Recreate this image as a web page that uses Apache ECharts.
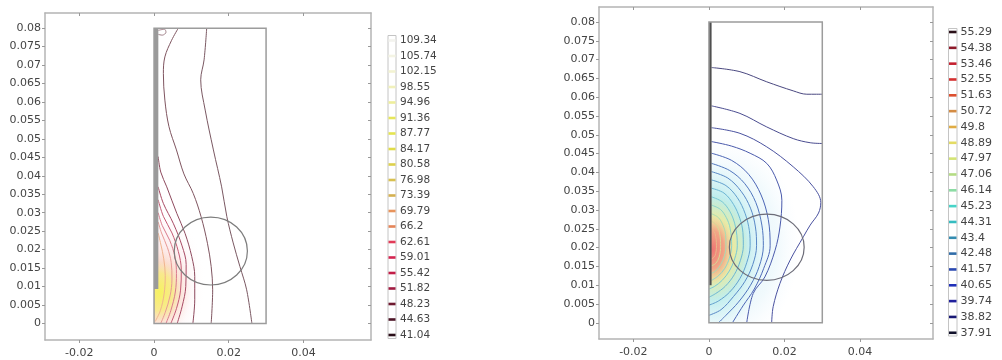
<!DOCTYPE html>
<html><head><meta charset="utf-8">
<script src="https://cdn.jsdelivr.net/npm/echarts@6/dist/echarts.min.js"></script>
<style>html,body{margin:0;padding:0;background:#fff}#c{width:1002px;height:360px}</style>
</head><body><div id="c"></div>
<script>
// ---------- tick labels ----------
const xTicks = [-0.02, 0, 0.02, 0.04];
const yTicks = [0, 0.005, 0.01, 0.015, 0.02, 0.025, 0.03, 0.035, 0.04, 0.045, 0.05, 0.055, 0.06, 0.065, 0.07, 0.075, 0.08];

// ---------- legend levels ----------
const leftLevels = ['109.34','105.74','102.15','98.55','94.96','91.36','87.77','84.17','80.58','76.98','73.39','69.79','66.2','62.61','59.01','55.42','51.82','48.23','44.63','41.04'];
const rightLevels = ['55.29','54.38','53.46','52.55','51.63','50.72','49.8','48.89','47.97','47.06','46.14','45.23','44.31','43.4','42.48','41.57','40.65','39.74','38.82','37.91'];

// ---------- geometry (data units) ----------
const domainRect = [0, 0, 0.03, 0.08];          // x0, y0, x1, y1
const leftWall = [0, 0.0093, 0.00115, 0.08];
const rightWall = [0, 0.01, 0.0007, 0.08];
const leftCircle = [0.0152, 0.0196, 0.0098, 0.0092];   // cx, cy, rx, ry
const rightCircle = [0.0153, 0.0201, 0.0099, 0.0088];

// ---------- temperature field (approximate glows: cx, cy, rx, ry) ----------
const leftGlow = [[0.0, 0.011, 0.014, 0.021], [0.001, 0.009, 0.009, 0.013], [0.0015, 0.0085, 0.0058, 0.0085]];
const rightGlow = [[0.004, 0.021, 0.02, 0.028], [0.001, 0.02, 0.014, 0.023], [0.001, 0.0198, 0.0095, 0.014], [0.001, 0.0195, 0.0055, 0.0092]];

// ---------- left contours ----------
const leftA = [[0.0141,0.080],[0.0134,0.0714],[0.0125,0.066],[0.0137,0.0578],[0.0159,0.047],[0.0181,0.037],[0.0195,0.0289],[0.0212,0.0218],[0.023,0.0154],[0.0248,0.0091],[0.0262,0]];
const leftB = [[0.0065,0.080],[0.0047,0.0767],[0.0029,0.0722],[0.0025,0.0677],[0.0029,0.0605],[0.0040,0.0533],[0.0060,0.047],[0.0080,0.0405],[0.0105,0.0352],[0.0126,0.0289],[0.0143,0.0217],[0.0153,0.0154],[0.0157,0.0091],[0.0153,0]];
const leftC = [[0.0011,0.0452],[0.0018,0.041],[0.0034,0.037],[0.0061,0.0298],[0.0083,0.0244],[0.0101,0.0181],[0.0109,0.0127],[0.0109,0.0064],[0.0104,0]];
const leftD = [[0.0011,0.037],[0.0025,0.0325],[0.0052,0.027],[0.0075,0.021],[0.0086,0.016],[0.0085,0.010],[0.0075,0.0045],[0.0062,0]];
const leftE = [[0.0011,0.0335],[0.0025,0.029],[0.0048,0.0245],[0.0065,0.0195],[0.0073,0.0145],[0.0071,0.009],[0.006,0.004],[0.0045,0]];
const leftF = [[0.0011,0.030],[0.0022,0.0265],[0.0042,0.0225],[0.0056,0.018],[0.006,0.0135],[0.0057,0.0085],[0.0045,0.0035],[0.0032,0]];
const leftG = [[0.0011,0.0275],[0.002,0.0245],[0.0036,0.0205],[0.0046,0.0165],[0.0048,0.012],[0.0043,0.0075],[0.003,0.003],[0.0018,0]];
const leftH = [[0.0011,0.0245],[0.0018,0.0215],[0.0026,0.0175],[0.003,0.013],[0.0027,0.008],[0.0017,0.0035],[0.0003,0.0005]];
const leftTopLoop = [[0.00115,0.0794],[0.0028,0.0797],[0.0032,0.0789],[0.0022,0.0781],[0.00115,0.0783]];

// ---------- right contours ----------
const right1 = [[0.0007,0.0679],[0.0082,0.0668],[0.0153,0.0641],[0.0223,0.0617],[0.0259,0.0608],[0.03,0.0608]];
const right2 = [[0.0007,0.0577],[0.0082,0.0557],[0.0153,0.0521],[0.0223,0.049],[0.0268,0.0479],[0.03,0.0477]];
const right3 = [[0.0007,0.0519],[0.0082,0.0504],[0.0153,0.0468],[0.0223,0.0415],[0.0276,0.0362],[0.0296,0.032],[0.0290,0.0292],[0.0268,0.026],[0.025,0.0229],[0.0215,0.0167],[0.0188,0.0105],[0.017,0.0043],[0.0166,0]];
const right4 = [[0.0007,0.0482],[0.006,0.047],[0.0109,0.0451],[0.0153,0.0424],[0.0179,0.038],[0.0193,0.0326],[0.0188,0.0255],[0.0175,0.0193],[0.0148,0.0122],[0.0117,0.0078],[0.01,0]];
const right5 = [[0.0007,0.0451],[0.006,0.0432],[0.0105,0.0395],[0.0138,0.034],[0.0157,0.0275],[0.0162,0.0205],[0.0145,0.0145],[0.012,0.009],[0.009,0.0045],[0.0062,0]];
const right6 = [[0.0007,0.0424],[0.0055,0.0405],[0.0095,0.037],[0.0124,0.032],[0.014,0.026],[0.0144,0.0205],[0.0133,0.015],[0.011,0.01],[0.0078,0.0055],[0.0045,0.002],[0.0025,0]];
const right7 = [[0.0007,0.0402],[0.005,0.0385],[0.0085,0.035],[0.011,0.0305],[0.0123,0.0255],[0.0126,0.0205],[0.0116,0.0155],[0.0095,0.011],[0.0065,0.007],[0.0032,0.0035],[0,0.002]];
const right8 = [[0.0007,0.038],[0.0045,0.0365],[0.0075,0.0333],[0.0096,0.029],[0.0107,0.0245],[0.0109,0.0205],[0.0100,0.016],[0.0082,0.0118],[0.0055,0.0082],[0.0025,0.0058],[0,0.0047]];
const right9 = [[0.0007,0.0358],[0.004,0.0345],[0.0065,0.0315],[0.0082,0.0277],[0.009,0.024],[0.0091,0.0205],[0.0083,0.0165],[0.0067,0.0128],[0.0043,0.0097],[0.0018,0.0078],[0,0.0068]];
const right10 = [[0.0007,0.0335],[0.0035,0.0322],[0.0055,0.0297],[0.0068,0.0265],[0.0074,0.0232],[0.0075,0.0205],[0.0068,0.017],[0.0054,0.0138],[0.0035,0.0113],[0.0015,0.0097],[0,0.009]];
const right11 = [[0.0007,0.0313],[0.003,0.0302],[0.0046,0.028],[0.0056,0.0252],[0.006,0.0205],[0.0054,0.0172],[0.0042,0.0145],[0.0025,0.0125],[0.0007,0.0113]];
const right12 = [[0.0007,0.029],[0.0025,0.028],[0.0037,0.026],[0.0044,0.0235],[0.0045,0.0205],[0.0041,0.0178],[0.0031,0.0155],[0.0018,0.0138],[0.0007,0.0132]];
const right13 = [[0.0007,0.027],[0.002,0.026],[0.0028,0.024],[0.0031,0.0205],[0.0027,0.0175],[0.0018,0.0158],[0.0007,0.0152]];
const right14 = [[0.0007,0.025],[0.0016,0.0238],[0.002,0.0205],[0.0016,0.0178],[0.0007,0.017]];

// ---------- styles ----------
const leftLegendColors = ['#f3f3ee','#f4f4e4','#f3f3d2','#f1f1bc','#eeee9c','#e6e65a','#e4e450','#e0dc48','#dcd04c','#d8c050','#d4b050','#e8945c','#e48458','#e23c58','#d42450','#c21e48','#a01a40','#6e1a30','#4c1426','#2a0e18'];
const rightLegendColors = ['#2a1018','#8e1a2a','#c42030','#d43030','#dc5030','#d48c44','#e0ac44','#e4dc64','#d4e474','#b4dc84','#8cdca4','#48d4c8','#34bcc0','#348cb0','#306ca8','#2a48b0','#2030b8','#20209c','#181874','#10102a'];
const leftLineColors = ['#7a5862','#7f5560','#8e4a5e','#a84a64','#c45a74','#da7a8c','#e89a96','#f0b48e','#a08088'];
const rightLineColors = ['#4a4880','#4a4c90','#4a52a0','#4a5aac','#4c66b6','#5076be','#5888c6','#62a0ce','#6cb6d4','#78c8d6','#8ad4cc','#a8dcb4','#d4da96','#e8b88a'];
const leftGlowStops = [
  [[0,'rgba(250,214,218,0.85)'],[0.6,'rgba(252,230,232,0.55)'],[1,'rgba(255,255,255,0)']],
  [[0,'rgba(250,205,150,0.9)'],[0.6,'rgba(250,208,178,0.55)'],[1,'rgba(255,230,220,0)']],
  [[0,'rgba(246,242,96,1)'],[0.6,'rgba(248,238,130,0.8)'],[1,'rgba(250,235,180,0)']]
];
const rightGlowStops = [
  [[0,'rgba(205,238,245,0.8)'],[0.7,'rgba(226,244,250,0.5)'],[1,'rgba(240,248,255,0)']],
  [[0,'rgba(150,230,215,0.95)'],[0.6,'rgba(170,232,230,0.65)'],[1,'rgba(200,240,245,0)']],
  [[0,'rgba(250,225,140,1)'],[0.6,'rgba(245,235,150,0.8)'],[1,'rgba(230,240,170,0)']],
  [[0,'rgba(238,118,115,1)'],[0.55,'rgba(242,150,130,0.8)'],[1,'rgba(245,190,150,0)']]
];

const FONT = 'DejaVu Sans';
const fmt = v => String(+(+v).toFixed(4));

function axesFor(gridIndex, xr, yr) {
  const base = {type:'value', gridIndex, splitLine:{show:false},
    axisLine:{show:true, onZero:false, lineStyle:{color:'#b4b4b4', width:1.5}},
    axisTick:{show:true, length:3, lineStyle:{color:'#999'}}};
  return {
    x: [
      Object.assign({}, base, {position:'bottom', min:xr[0], max:xr[1],
        axisTick:Object.assign({}, base.axisTick, {customValues:xTicks}),
        axisLabel:{customValues:xTicks, formatter:fmt, color:'#444', fontSize:11, fontFamily:FONT, margin:8}}),
      Object.assign({}, base, {position:'top', min:xr[0], max:xr[1],
        axisTick:Object.assign({}, base.axisTick, {customValues:xTicks, inside:true}),
        axisLabel:{show:false}})
    ],
    y: [
      Object.assign({}, base, {position:'left', min:yr[0], max:yr[1],
        axisTick:Object.assign({}, base.axisTick, {customValues:yTicks}),
        axisLabel:{customValues:yTicks, formatter:fmt, color:'#444', fontSize:11, fontFamily:FONT, margin:4}}),
      Object.assign({}, base, {position:'right', min:yr[0], max:yr[1],
        axisTick:Object.assign({}, base.axisTick, {customValues:yTicks, inside:true}),
        axisLabel:{show:false}})
    ]
  };
}

const A0 = axesFor(0, [-0.0292, 0.0581], [-0.0045, 0.0841]);
const A1 = axesFor(1, [-0.0291, 0.0593], [-0.0043, 0.0840]);

function domainClip(api) {
  const p0 = api.coord([domainRect[0], domainRect[3]]);
  const p1 = api.coord([domainRect[2], domainRect[1]]);
  return {type:'rect', shape:{x:p0[0], y:p0[1], width:p1[0]-p0[0], height:p1[1]-p0[1]}};
}

function glowSeries(data, stops, ai) {
  return {type:'custom', xAxisIndex:ai, yAxisIndex:ai, data, encode:{x:0, y:1}, silent:true, animation:false, z:1, clip:false,
    renderItem(params, api) {
      const c = api.coord([api.value(0), api.value(1)]);
      const s = api.size([api.value(2), api.value(3)]);
      return {type:'group', clipPath:domainClip(api), children:[{
        type:'circle', x:c[0], y:c[1], scaleX:s[0]/100, scaleY:s[1]/100, shape:{cx:0, cy:0, r:100},
        style:{fill:{type:'radial', x:0.5, y:0.5, r:0.5, colorStops:stops[params.dataIndex].map(d=>({offset:d[0], color:d[1]}))}}
      }]};
    }};
}

function contourSeries(list, colors, ai) {
  return list.map((pts, i) => ({type:'line', xAxisIndex:ai, yAxisIndex:ai, data:pts, symbol:'none', showSymbol:false,
    smooth:0.35, silent:true, animation:false, z:3, lineStyle:{color:colors[i], width:1}}));
}

function shapesSeries(ai, wall, wallColor, circle, circleColor) {
  return {type:'custom', xAxisIndex:ai, yAxisIndex:ai, data:[[0, 0]], encode:{x:0, y:1}, silent:true, animation:false, z:5, clip:false,
    renderItem(params, api) {
      const d0 = api.coord([domainRect[0], domainRect[3]]), d1 = api.coord([domainRect[2], domainRect[1]]);
      const w0 = api.coord([wall[0], wall[3]]), w1 = api.coord([wall[2], wall[1]]);
      const cc = api.coord([circle[0], circle[1]]), cs = api.size([circle[2], circle[3]]);
      return {type:'group', children:[
        {type:'rect', shape:{x:w0[0], y:w0[1], width:w1[0]-w0[0], height:w1[1]-w0[1]}, style:{fill:wallColor}},
        {type:'rect', shape:{x:d0[0], y:d0[1], width:d1[0]-d0[0], height:d1[1]-d0[1]}, style:{fill:'none', stroke:'#9c9c9c', lineWidth:1.5}},
        {type:'ellipse', shape:{cx:cc[0], cy:cc[1], rx:cs[0], ry:cs[1]}, style:{fill:'none', stroke:circleColor, lineWidth:1.2}}
      ]};
    }};
}

function legendGraphic(levels, colors, boxX, boxW, boxTop, boxBottom, y0, step, textX, fs) {
  const els = [{type:'rect', shape:{x:boxX, y:boxTop, width:boxW, height:boxBottom-boxTop}, style:{fill:'#fff', stroke:'#c4c4c4', lineWidth:1}}];
  levels.forEach((t, i) => {
    const y = y0 + i*step;
    els.push({type:'rect', shape:{x:boxX+0.5, y:y-1.3, width:boxW-1, height:2.6}, style:{fill:colors[i]}});
    els.push({type:'text', x:textX, y:y, style:{text:t, fill:'#444', fontSize:fs, fontFamily:FONT, verticalAlign:'middle', align:'left'}});
  });
  return els;
}

const option = {
  backgroundColor:'#fff',
  animation:false,
  grid:[
    {left:45, top:13, width:326, height:327, containLabel:false},
    {left:599, top:7, width:334, height:332, containLabel:false}
  ],
  xAxis:[A0.x[0], A0.x[1], Object.assign(A1.x[0], {gridIndex:1}), Object.assign(A1.x[1], {gridIndex:1})],
  yAxis:[A0.y[0], A0.y[1], Object.assign(A1.y[0], {gridIndex:1}), Object.assign(A1.y[1], {gridIndex:1})],
  series:[
    glowSeries(leftGlow, leftGlowStops, 0),
    glowSeries(rightGlow, rightGlowStops, 2),
    ...contourSeries([leftA, leftB, leftC, leftD, leftE, leftF, leftG, leftH, leftTopLoop], leftLineColors, 0),
    ...contourSeries([right1, right2, right3, right4, right5, right6, right7, right8, right9, right10, right11, right12, right13, right14], rightLineColors, 2),
    shapesSeries(0, leftWall, '#9a9a9a', leftCircle, '#7c7c7c'),
    shapesSeries(2, rightWall, '#505050', rightCircle, '#6c6c78')
  ],
  graphic:[
    ...legendGraphic(leftLevels, leftLegendColors, 388, 8, 35.5, 338.5, 40.5, 15.5, 400, 10.5),
    ...legendGraphic(rightLevels, rightLegendColors, 948.5, 8.5, 28.5, 336, 32, 15.83, 960.5, 11)
  ]
};

const chart = echarts.init(document.getElementById('c'), null, {renderer:'canvas'});
chart.setOption(option);
</script></body></html>
